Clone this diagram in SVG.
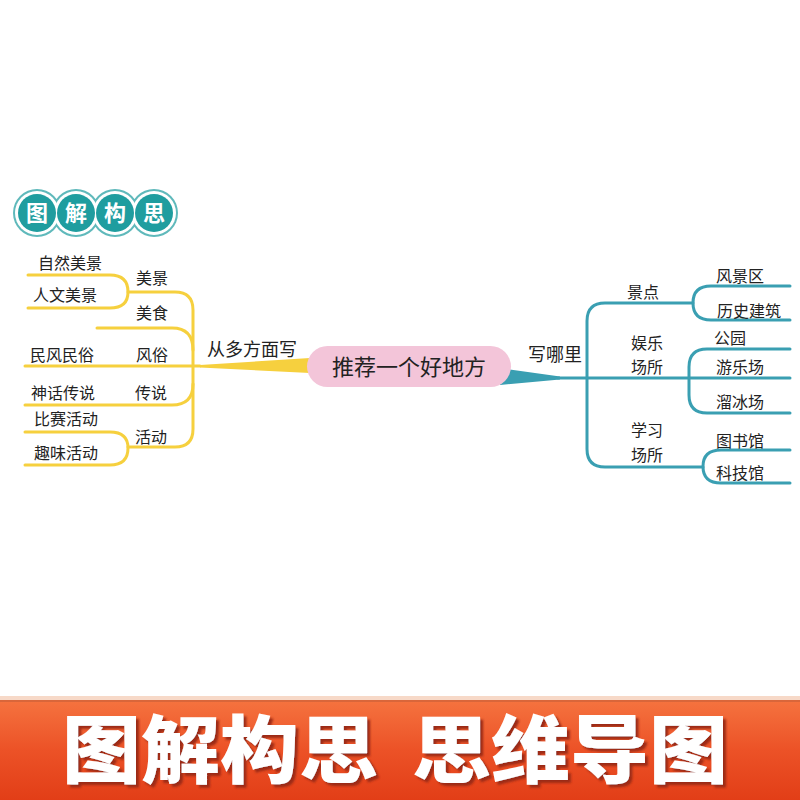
<svg xmlns="http://www.w3.org/2000/svg" width="800" height="800" viewBox="0 0 800 800">
<defs>
<linearGradient id="bn" x1="0" y1="0" x2="0" y2="1">
<stop offset="0" stop-color="#f5733f"/>
<stop offset="0.5" stop-color="#ec5227"/>
<stop offset="1" stop-color="#e23e17"/>
</linearGradient>
<filter id="sh" x="-10%" y="-10%" width="120%" height="130%">
<feDropShadow dx="3" dy="3" stdDeviation="1" flood-color="#9c2a12" flood-opacity="1"/>
</filter>
</defs>
<style>
.y{fill:none;stroke:#f6d03e;stroke-width:3;stroke-linecap:round}
.t{fill:none;stroke:#3a9fb2;stroke-width:3;stroke-linecap:round}
.lb{font-family:"Noto Sans CJK SC","Noto Sans",sans-serif;font-size:16px;fill:#222;text-anchor:middle}
.big{font-size:18px}
.bd{font-family:"Noto Sans CJK SC",sans-serif;font-weight:700;font-size:22px;fill:#fff;text-anchor:middle}
.ban{font-family:"Noto Sans CJK SC",sans-serif;font-weight:900;font-size:74px;fill:#fff}
</style>
<rect width="800" height="800" fill="#fff"/>

<g id="badge">
<g fill="#5fb9bb"><circle cx="37" cy="213" r="24"/><circle cx="76" cy="213" r="24"/><circle cx="115" cy="213" r="24"/><circle cx="154" cy="213" r="24"/></g>
<g fill="#fff"><circle cx="37" cy="213" r="22"/><circle cx="76" cy="213" r="22"/><circle cx="115" cy="213" r="22"/><circle cx="154" cy="213" r="22"/></g>
<g fill="#1f9d9f"><circle cx="37" cy="213" r="19"/><circle cx="76" cy="213" r="19"/><circle cx="115" cy="213" r="19"/><circle cx="154" cy="213" r="19"/></g>
<text class="bd" x="37" y="221">图</text><text class="bd" x="76" y="221">解</text><text class="bd" x="115" y="221">构</text><text class="bd" x="154" y="221">思</text>
</g>

<g id="connectors">
<polygon points="310,358 310,373 200,367.5 200,365" fill="#f6d03e"/>
<path class="y" d="M200 366 H25"/>
<path class="y" d="M128 292 H175 Q193 292 193 310 V429 Q193 447 175 447 H128"/>
<path class="y" d="M97 328 H172 Q193 328 193 350"/>
<path class="y" d="M25 405 H172 Q193 405 193 384"/>
<path class="y" d="M28 275 H110 Q128 275 128 292 Q128 308 110 308 H28"/>
<path class="y" d="M25 432 H110 Q128 432 128 448 Q128 465 110 465 H25"/>

<polygon points="500,368 500,385 560,379.5 560,376.5" fill="#3a9fb2"/>
<path class="t" d="M558 378 H790"/>
<path class="t" d="M693 303 H605 Q587 303 587 321 V449 Q587 467 605 467 H703"/>
<path class="t" d="M790 286 H711 Q693 286 693 303 Q693 320 711 320 H790"/>
<path class="t" d="M790 349 H707 Q689 349 689 367 V395 Q689 413 707 413 H790"/>
<path class="t" d="M790 450 H721 Q703 450 703 466.5 Q703 483 721 483 H790"/>
</g>

<g id="center">
<rect x="307" y="346" width="204" height="41" rx="20.5" fill="#f3c5d9"/>
<text class="lb" x="409" y="375" style="font-size:22px">推荐一个好地方</text>
</g>

<g id="left-main"><text class="lb big" x="252" y="356">从多方面写</text></g>
<g id="meijing"><text class="lb" x="152" y="284">美景</text></g>
<g id="meishi"><text class="lb" x="152" y="319">美食</text></g>
<g id="fengsu"><text class="lb" x="152" y="361">风俗</text></g>
<g id="chuanshuo"><text class="lb" x="151" y="399">传说</text></g>
<g id="huodong"><text class="lb" x="151" y="443">活动</text></g>
<g id="ziran"><text class="lb" x="70" y="269">自然美景</text></g>
<g id="renwen"><text class="lb" x="65" y="301">人文美景</text></g>
<g id="minfeng"><text class="lb" x="62" y="361">民风民俗</text></g>
<g id="shenhua"><text class="lb" x="63" y="399">神话传说</text></g>
<g id="bisai"><text class="lb" x="66" y="425">比赛活动</text></g>
<g id="quwei"><text class="lb" x="66" y="459">趣味活动</text></g>

<g id="right-main"><text class="lb big" x="555" y="361">写哪里</text></g>
<g id="jingdian"><text class="lb" x="643" y="298">景点</text></g>
<g id="yule"><text class="lb" x="647" y="349">娱乐</text><text class="lb" x="647" y="373">场所</text></g>
<g id="xuexi"><text class="lb" x="647" y="436">学习</text><text class="lb" x="647" y="461">场所</text></g>
<g id="fengjingqu"><text class="lb" x="740" y="282">风景区</text></g>
<g id="lishi"><text class="lb" x="749" y="317">历史建筑</text></g>
<g id="gongyuan"><text class="lb" x="730" y="344">公园</text></g>
<g id="youlechang"><text class="lb" x="740" y="373">游乐场</text></g>
<g id="liubing"><text class="lb" x="740" y="408">溜冰场</text></g>
<g id="tushuguan"><text class="lb" x="740" y="447">图书馆</text></g>
<g id="kejiguan"><text class="lb" x="740" y="479">科技馆</text></g>

<g id="banner">
<rect x="0" y="696" width="800" height="4" fill="#f7d9c8"/>
<rect x="0" y="700" width="800" height="100" fill="url(#bn)"/>
<rect x="0" y="700" width="800" height="2" fill="#d9663a"/>
<g class="ban" filter="url(#sh)">
<text x="62" y="777" textLength="316" lengthAdjust="spacingAndGlyphs">图解构思</text>
<text x="412" y="777" textLength="316" lengthAdjust="spacingAndGlyphs">思维导图</text>
</g>
</g>
</svg>
